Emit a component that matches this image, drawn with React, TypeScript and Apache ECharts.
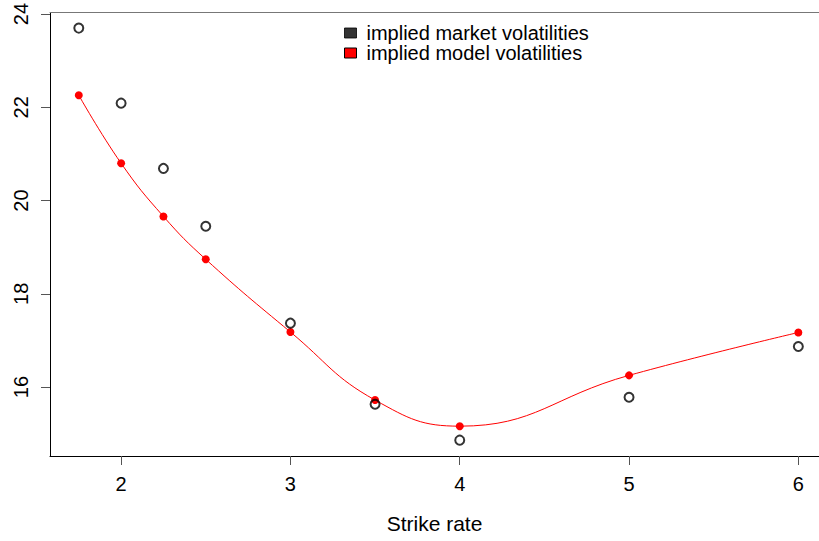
import React, { useEffect, useRef } from "react";
import * as echarts from "echarts";

const strikes = [1.75, 2, 2.25, 2.5, 3, 3.5, 4, 5, 6];
const marketVols = [23.7, 22.09, 20.69, 19.45, 17.37, 15.63, 14.86, 15.78, 16.87];
const modelVols = [22.26, 20.8, 19.66, 18.74, 17.18, 15.72, 15.16, 16.25, 17.17];
const xTicks = [2, 3, 4, 5, 6];
const yTicks = [16, 18, 20, 22, 24];
const marketName = "implied market volatilities";
const modelName = "implied model volatilities";
const xTitle = "Strike rate";

const FONT = "'Liberation Sans', Arial, Helvetica, sans-serif";

export default function App() {
  const ref = useRef<HTMLDivElement>(null);
  useEffect(() => {
    if (!ref.current) return;
    const chart = echarts.init(ref.current, undefined, { renderer: "svg" });
    chart.setOption({
      animation: false,
      backgroundColor: "#fff",
      textStyle: { fontFamily: FONT },
      grid: {
        left: 50,
        top: 10,
        right: 0,
        height: 446,
        show: false,
      },
      legend: {
        orient: "vertical",
        left: 339,
        top: 18,
        itemWidth: 12,
        itemHeight: 10,
        itemGap: 0,
        textStyle: { fontSize: 20, color: "#000", fontFamily: FONT, padding: [0, 0, 0, 5] },
        data: [
          { name: marketName, icon: "rect", itemStyle: { color: "#000", borderColor: "#000", borderWidth: 1 } },
          { name: modelName, icon: "rect", itemStyle: { color: "#ff0000", borderColor: "#000", borderWidth: 1 } },
        ],
      },
      xAxis: [
        {
          type: "value",
          min: 1.58,
          max: 6.122,
          name: xTitle,
          nameLocation: "middle",
          nameGap: 57,
          nameTextStyle: { fontSize: 21, color: "#000", fontFamily: FONT },
          axisLine: { show: true, onZero: false, lineStyle: { color: "#000", width: 1 } },
          axisTick: { show: true, length: 9, customValues: xTicks, lineStyle: { color: "#555" } },
          axisLabel: { customValues: xTicks, fontSize: 20, color: "#000", margin: 18, fontFamily: FONT },
          splitLine: { show: false },
        },
        {
          type: "value",
          position: "top",
          min: 1.58,
          max: 6.122,
          axisLine: { show: true, onZero: false, lineStyle: { color: "#777", width: 1 } },
          axisTick: { show: false },
          axisLabel: { show: false },
          splitLine: { show: false },
        },
      ],
      yAxis: {
        type: "value",
        min: 14.52,
        max: 24.03,
        axisLine: { show: true, onZero: false, lineStyle: { color: "#000", width: 1 } },
        axisTick: { show: true, length: 9, customValues: yTicks, lineStyle: { color: "#555" } },
        axisLabel: { customValues: yTicks, fontSize: 20, color: "#000", margin: 19, rotate: 90, fontFamily: FONT },
        splitLine: { show: false },
      },
      series: [
        {
          name: modelName,
          type: "line",
          xAxisIndex: 0,
          data: strikes.map((x, i) => [x, modelVols[i]]),
          smooth: 0.45,
          symbol: "circle",
          symbolSize: 8,
          showSymbol: true,
          lineStyle: { color: "#ff0000", width: 1 },
          itemStyle: { color: "#ff0000" },
          z: 2,
        },
        {
          name: marketName,
          type: "scatter",
          xAxisIndex: 0,
          data: strikes.map((x, i) => [x, marketVols[i]]),
          symbol: "circle",
          symbolSize: 9,
          itemStyle: { color: "rgba(255,255,255,0)", borderColor: "#000", borderWidth: 2 },
          z: 3,
        },
      ],
    });
    return () => chart.dispose();
  }, []);
  return (
    <div
      ref={ref}
      style={{ position: "fixed", left: 0, top: 0, width: 819, height: 541, background: "#fff" }}
    />
  );
}
